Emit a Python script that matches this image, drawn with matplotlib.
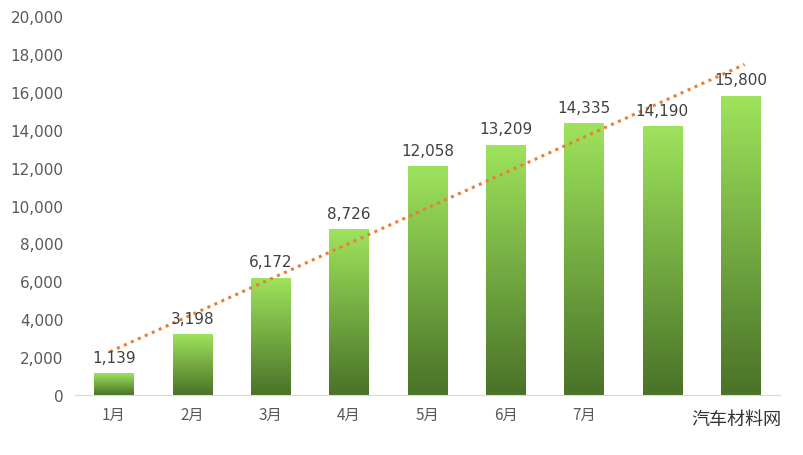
import numpy as np
import matplotlib
matplotlib.use("Agg")
import matplotlib.pyplot as plt
from matplotlib.colors import LinearSegmentedColormap

months = ["1月","2月","3月","4月","5月","6月","7月","",""]
values = [1139, 3198, 6172, 8726, 12058, 13209, 14335, 14190, 15800]

plt.rcParams['font.family'] = ['Noto Sans CJK SC', 'DejaVu Sans']
fig = plt.figure(figsize=(8.04, 4.56), dpi=100)
ax = fig.add_axes([0.093, 0.132, 0.877, 0.83])
x = np.arange(len(values))
w = 0.5
cmap = LinearSegmentedColormap.from_list("g", ["#4A7228", "#9EE35C"])
grad = np.linspace(0, 1, 256).reshape(-1, 1)
for xi, v in zip(x, values):
    ax.imshow(grad, extent=(xi - w/2, xi + w/2, 0, v), origin='lower', cmap=cmap,
              aspect='auto', zorder=2)
    ax.text(xi, v + 450, f"{v:,}", ha='center', va='bottom', fontsize=11,
            color='#404040', family='DejaVu Sans', zorder=4)
k, b = np.polyfit(x, values, 1)
xt = np.array([-0.05, 8.05])
ax.plot(xt, k*xt + b, linestyle=(0, (1, 1.5)), color='#ED7D31', lw=2.2, zorder=3)
ax.set_xlim(-0.5, 8.5)
ax.set_ylim(0, 20000)
ax.set_yticks(range(0, 20001, 2000))
ax.set_yticklabels([f"{t:,}" for t in range(0, 20001, 2000)], family='DejaVu Sans')
ax.set_xticks(x)
ax.set_xticklabels(months)
ax.tick_params(length=0, labelsize=11, colors='#595959', pad=8)
for s in ['top', 'right', 'left']:
    ax.spines[s].set_visible(False)
ax.spines['bottom'].set_color('#D9D9D9')
fig.text(0.86, 0.08, "汽车材料网", fontsize=13, color='#333333', ha='left', va='center')
fig.savefig("out.png", dpi=100)
